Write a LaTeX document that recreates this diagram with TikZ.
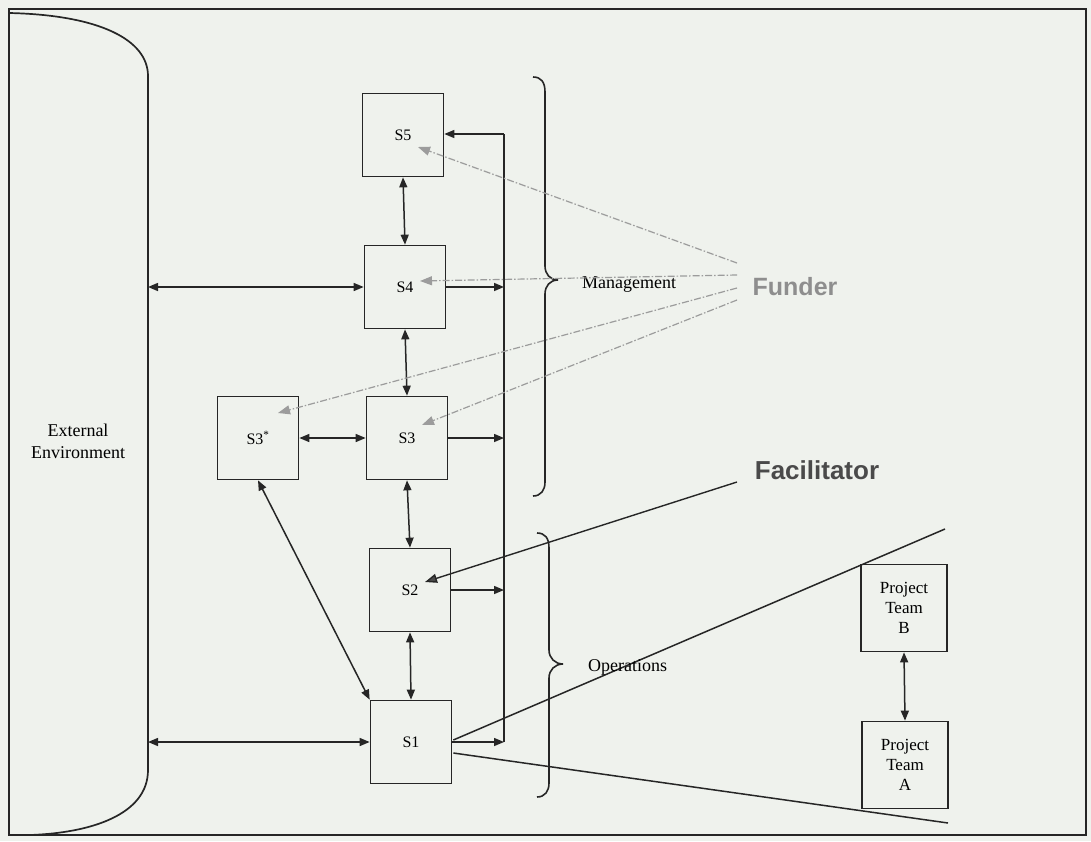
\documentclass[tikz,border=0pt]{standalone}
\usepackage{fontspec}
\setmainfont{Liberation Serif}
\newfontfamily\headfont{Liberation Sans}
\usetikzlibrary{arrows.meta,calc}
\definecolor{ink}{HTML}{262626}
\definecolor{bgc}{RGB}{239,242,237}
\definecolor{fundline}{HTML}{9C9C9C}
\definecolor{fundtext}{HTML}{8E8E8E}
\definecolor{factext}{HTML}{4A4A4A}
\begin{document}
\begin{tikzpicture}[x=1pt,y=-1pt,
  box/.style={draw=ink,line width=1.7pt,minimum width=81pt,minimum height=83pt,inner sep=0pt,font=\fontsize{16}{19}\selectfont},
  tbox/.style={box,minimum width=86pt,minimum height=87pt,align=center,font=\fontsize{17}{20}\selectfont},
  conn/.style={draw=ink,line width=1.5pt,-{Triangle[length=10pt,width=8pt]}},
  dconn/.style={draw=ink,line width=1.5pt,{Triangle[length=10pt,width=8pt]}-{Triangle[length=10pt,width=8pt]}},
  plain/.style={draw=ink,line width=1.5pt},
  fund/.style={draw=fundline,line width=1.2pt,dash pattern=on 7pt off 2pt on 1.5pt off 2pt,-{Triangle[length=12pt,width=9pt,fill=fundline]}},
  facil/.style={draw=ink,line width=1.4pt,-{Triangle[length=12pt,width=9pt,fill=factext]}},
  lbl/.style={font=\fontsize{18}{22}\selectfont,align=center,inner sep=0pt}
]
\fill[bgc] (0,0) rectangle (1091,841);
\useasboundingbox (0,0) rectangle (1091,841);
% frame
\draw[ink,line width=1.8pt] (9,9) rectangle (1086,835);
% external environment shape
\draw[ink,line width=1.7pt] (9,13) .. controls (100,15) and (148,40) .. (148,76) -- (148,770) .. controls (148,815) and (90,833) .. (30,835);
\node[lbl] (ext) at (78,441) {External\\Environment};

% boxes
\node[box] (S5) at (403,135) {S5};
\node[box] (S4) at (405,287) {S4};
\node[box] (S3) at (407,438) {S3};
\node[box] (S3s) at (258,438) {S3\textsuperscript{*}};
\node[box] (S2) at (410,590) {S2};
\node[box] (S1) at (411,742) {S1};
\node[tbox] (PTB) at (904,608) {Project\\Team\\B};
\node[tbox] (PTA) at (905,765) {Project\\Team\\A};

% vertical links
\draw[dconn] (S5.south) -- (S4.north);
\draw[dconn] (S4.south) -- (S3.north);
\draw[dconn] (S3.south) -- (S2.north);
\draw[dconn] (S2.south) -- (S1.north);
\draw[dconn] (S3s.east) -- (S3.west);
\draw[dconn] (S3s.south) -- (S1.north west);
\draw[dconn] (PTB.south) -- (PTA.north);

% environment links
\coordinate (e4) at (148,287);
\coordinate (e1) at (148,742);
\draw[dconn] (e4) -- (S4.west);
\draw[dconn] (e1) -- (S1.west);

% feedback bus
\coordinate (bt) at (504,134);
\coordinate (bb) at (504,742);
\draw[plain] (bb) -- (bt);
\draw[conn] (bt) -- (bt -| S5.east);
\draw[conn] (S4.east) -- (S4.east -| bt);
\draw[conn] (S3.east) -- (S3.east -| bt);
\draw[conn] (S2.east) -- (S2.east -| bt);
\draw[conn] (S1.east) -- (S1.east -| bt);

% zoom lines from S1
\coordinate (zu) at (945,529);
\coordinate (zl) at (948,823);
\draw[plain] ($(S1.east)+(1,-2)$) -- (zu);
\draw[plain] ($(S1.east)+(1,11)$) -- (zl);

% braces
\draw[ink,line width=1.6pt] (533,77) .. controls (541,77) and (545,82) .. (545,92) -- (545,266) .. controls (545,274) and (550,280) .. (558,280) .. controls (550,280) and (545,286) .. (545,294) -- (545,482) .. controls (545,490) and (541,496) .. (533,496);
\draw[ink,line width=1.6pt] (537,533) .. controls (545,533) and (549,538) .. (549,548) -- (549,650) .. controls (549,658) and (555,664) .. (563,664) .. controls (555,664) and (549,670) .. (549,678) -- (549,783) .. controls (549,791) and (545,797) .. (537,797);
\node[lbl,anchor=west] (mgmt) at (582,285) {Management};
\node[lbl,anchor=west] (ops) at (588,667) {Operations};

% funder
\node[font=\headfont\bfseries\fontsize{25}{28}\selectfont,text=fundtext,inner sep=0pt] (Fun) at (795,287) {Funder};
\coordinate (fa) at (737,263);
\coordinate (fb) at (737,275);
\coordinate (fc) at (737,288);
\coordinate (fd) at (737,300);
\draw[fund] (fa) -- ($(S5.center)+(15,12)$);
\draw[fund] (fb) -- ($(S4.center)+(15,-6)$);
\draw[fund] (fc) -- ($(S3s.center)+(20,-25)$);
\draw[fund] (fd) -- ($(S3.center)+(15,-13)$);

% facilitator
\node[font=\headfont\bfseries\fontsize{26}{28}\selectfont,text=factext,inner sep=0pt] (Fac) at (817,470) {Facilitator};
\coordinate (fe) at (737,482);
\draw[facil] (fe) -- ($(S2.center)+(15,-8)$);
\end{tikzpicture}
\end{document}
